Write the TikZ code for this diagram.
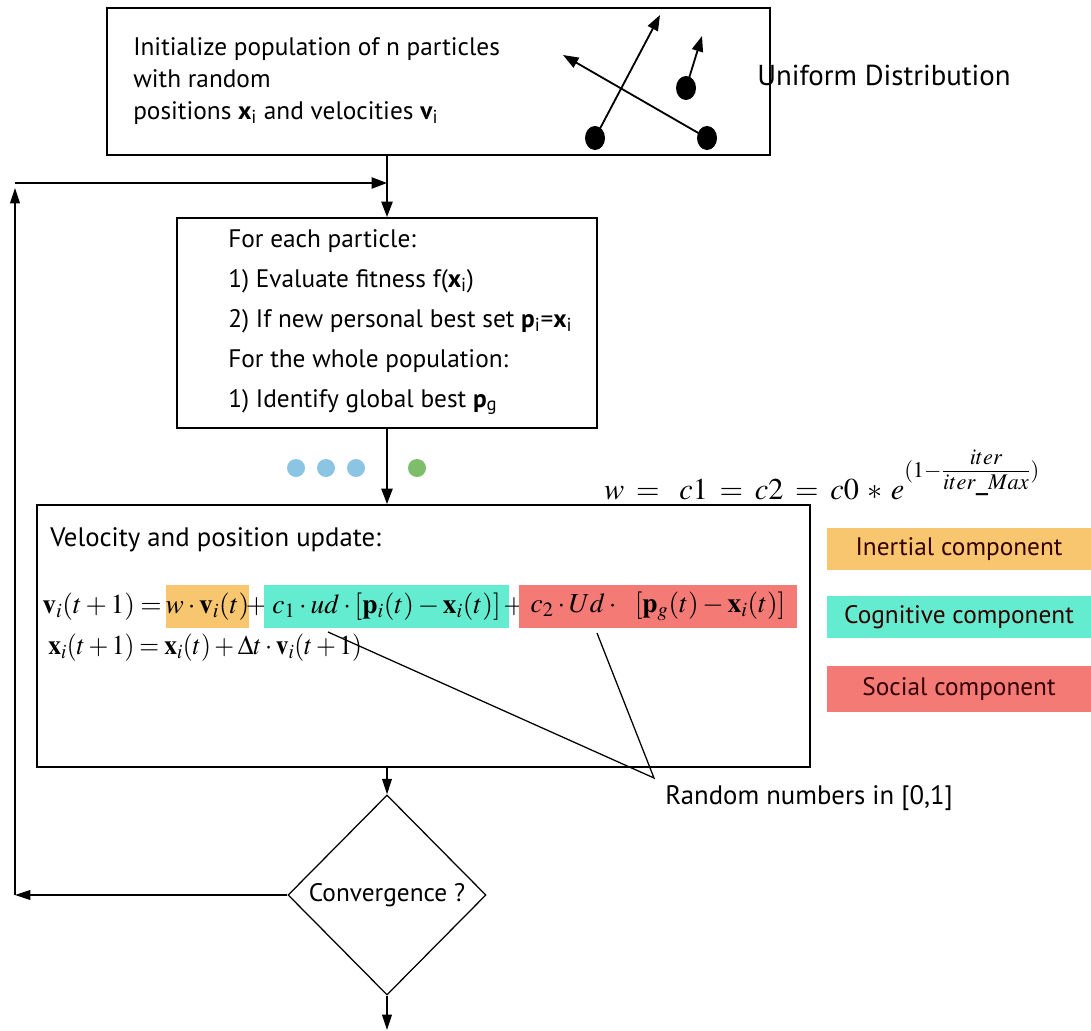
\documentclass[tikz,border=0pt]{standalone}
\usepackage{graphicx}
\usepackage{mathptmx}
\usepackage[no-math]{fontspec}
\setmainfont{PT Sans}
\usetikzlibrary{shapes.geometric,arrows.meta,positioning}

\definecolor{inertcol}{RGB}{249,198,112}
\definecolor{cogncol}{RGB}{100,236,208}
\definecolor{soccol}{RGB}{244,122,118}
\definecolor{dotblue}{RGB}{140,196,228}
\definecolor{dotgreen}{RGB}{126,190,106}

\newcommand{\tightmath}{\thickmuskip=3.5mu\relax\medmuskip=2.5mu\relax}

\tikzset{
  flowbox/.style={draw, line width=1.3pt, inner sep=0pt},
  flowarrow/.style={-{Triangle[length=11pt,width=8pt]}, line width=1.3pt},
  thinarrow/.style={-{Triangle[length=11pt,width=7pt]}, line width=0.9pt},
  boxtext/.style={anchor=west, align=left, inner sep=0pt, font=\fontsize{18}{22.7}\selectfont},
  eqtext/.style={inner sep=0pt, font=\fontsize{19.5}{23}\selectfont},
  hl/.style={eqtext, minimum height=1.075cm},
  comptag/.style={inner sep=0pt, minimum width=6.6cm, text=black!80!red, font=\fontsize{18}{21}\selectfont},
  particle/.style={ellipse, fill=black, minimum width=0.5cm, minimum height=0.6cm, inner sep=0pt},
  dotbubble/.style={circle, inner sep=0pt, minimum size=0.45cm},
}

\begin{document}
\begin{tikzpicture}[x=0.025cm, y=-0.025cm]
\useasboundingbox (0,0) rectangle (1091,1031);

% initialisation box
\node[flowbox, minimum width=16.575cm, minimum height=3.675cm] (init) at (438.5,81.5) {};
\node[boxtext] (inittext) at (133,81) {Initialize population of n particles\\with random\\positions \textbf{x}\textsubscript{i} and velocities \textbf{v}\textsubscript{i}};
\node[particle] (p1) at (595,138) {};
\node[particle] (p2) at (707,138) {};
\node[particle] (p3) at (686,88) {};
\coordinate (p1end) at (660,15);
\coordinate (p2end) at (563,55);
\coordinate (p3end) at (702,36);
\draw[flowarrow] (p1.center) -- (p1end);
\draw[flowarrow] (p2.center) -- (p2end);
\draw[flowarrow] (p3.center) -- (p3end);
\node[anchor=west, inner sep=0pt, font=\fontsize{20.5}{24}\selectfont] (uniform) at (757,75) {Uniform Distribution};

% evaluation box
\node[flowbox, minimum width=10.5cm, minimum height=5.25cm] (eval) at (387,323) {};
\node[boxtext, font=\fontsize{18}{28.45}\selectfont] (evaltext) at (228,322) {For each particle:\\1) Evaluate fitness f(\textbf{x}\textsubscript{i})\\2) If new personal best set \textbf{p}\textsubscript{i}=\textbf{x}\textsubscript{i}\\For the whole population:\\1) Identify global best \textbf{p}\textsubscript{g}};

% dots
\foreach \x [count=\k] in {296,326,356}
  \node[dotbubble, fill=dotblue] (b\k) at (\x,468) {};
\node[dotbubble, fill=dotgreen] (g1) at (417,468) {};

\node[inner sep=0pt, font=\fontsize{21.5}{25}\selectfont] (wform) at (822,474) {$\thickmuskip=7mu\relax\medmuskip=5mu\relax w =\ c1 = c2 = c0 * e^{(1-\frac{\scriptstyle iter\mathstrut}{\scriptstyle\mathstrut iter\_Max})}$};

% update box
\node[flowbox, minimum width=19.325cm, minimum height=6.55cm] (upd) at (423.5,636) {};
\node[boxtext, font=\fontsize{19}{23}\selectfont] (updtitle) at (50,540) {Velocity and position update:};
\node[eqtext, anchor=east] (eqlhs) at (162,607) {$\tightmath\mathbf{v}_i(t+1) =$};
\node[hl, fill=inertcol, minimum width=2.075cm] (inert) at (207.5,606.5) {$\tightmath w\cdot\mathbf{v}_i(t)$};
\node[eqtext] (plus1) at (256.5,607) {$+$};
\node[hl, fill=cogncol, minimum width=6.125cm] (cogn) at (386.5,606.5) {$\tightmath c_1\cdot ud\cdot[\mathbf{p}_i(t)-\mathbf{x}_i(t)]$};
\node[eqtext] (plus2) at (514,607) {$+$};
\node[hl, fill=soccol, minimum width=6.95cm] (soc) at (658,606.5) {$\tightmath c_2\cdot Ud\cdot\ \ [\mathbf{p}_g(t)-\mathbf{x}_i(t)]$};
\node[eqtext, anchor=west] (eqpos) at (48,648) {\scalebox{0.93}[1]{$\tightmath\mathbf{x}_i(t+1) = \mathbf{x}_i(t)+\Delta t\cdot\mathbf{v}_i(t+1)$}};

% component tags
\node[comptag, fill=inertcol, minimum height=1.05cm] (tagI) at (959,549) {Inertial component};
\node[comptag, fill=cogncol, minimum height=1.05cm] (tagC) at (959,617) {Cognitive component};
\node[comptag, fill=soccol, minimum height=1.15cm] (tagS) at (959,689) {Social component};

% random numbers
\node[anchor=west, inner sep=0pt, font=\fontsize{19}{22}\selectfont] (rnd) at (665,798) {Random numbers in [0,1]};
\coordinate (udpt) at (328,632);
\coordinate (Udpt) at (597,633);
\coordinate (apex) at (654,778);
\draw[line width=0.9pt] (udpt) -- (apex) -- (Udpt);

% decision
\node[draw, diamond, line width=0.9pt, inner sep=0pt, minimum width=4.95cm, minimum height=5cm, font=\fontsize{18}{21}\selectfont] (conv) at (387,895) {Convergence ?};

% connectors
\coordinate (loopleft) at (15,895);
\coordinate (loopup) at (15,188);
\coordinate (looptop) at (15,183);
\coordinate (out) at (387,1030);
\draw[flowarrow] (init.south -| conv.north) -- (eval.north -| conv.north);
\draw[flowarrow] (looptop) -- (conv.north |- looptop);
\draw[flowarrow] (eval.south -| conv.north) -- (upd.north -| conv.north);
\draw[thinarrow] (upd.south -| conv.north) -- (conv.north);
\draw[thinarrow] (conv.west) -- (loopleft);
\draw[thinarrow] (loopleft) -- (loopup);
\draw[thinarrow] (conv.south) -- (out);
\end{tikzpicture}
\end{document}
